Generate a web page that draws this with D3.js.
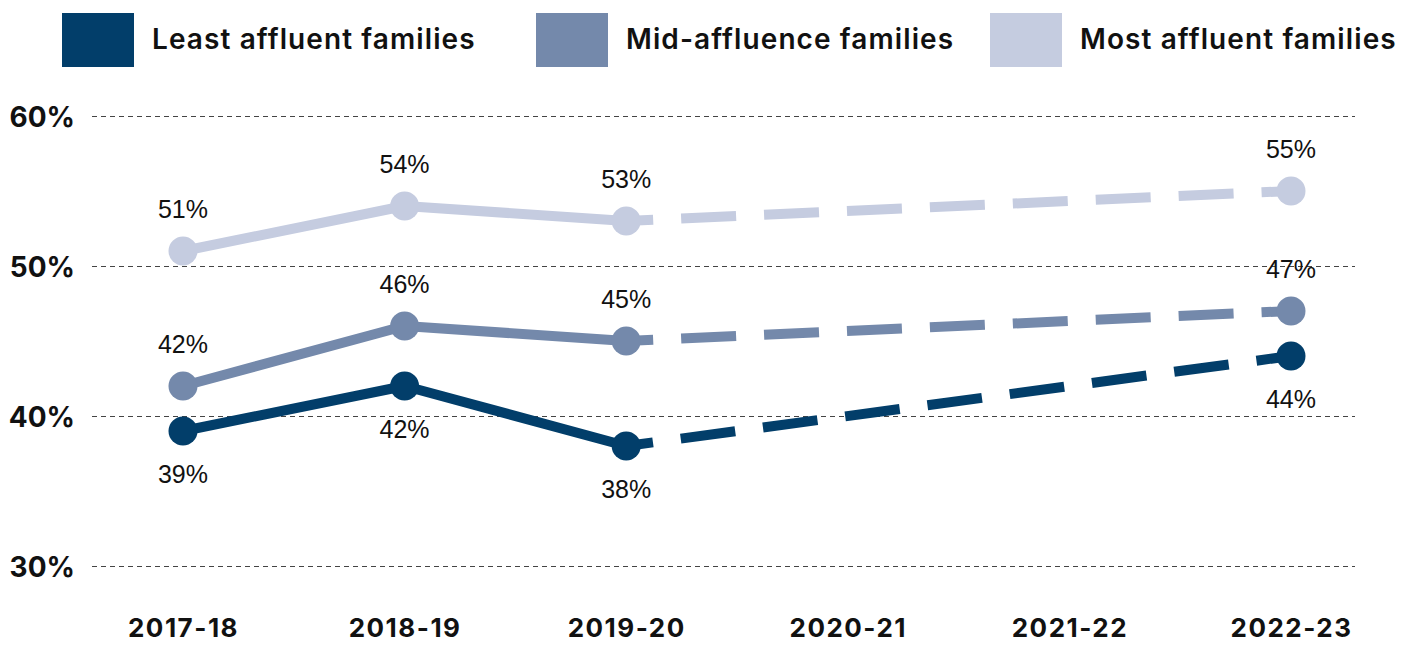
<!DOCTYPE html>
<html>
<head>
<meta charset="utf-8">
<script src="https://cdn.jsdelivr.net/npm/d3@7"></script>
<style>
  html, body { margin: 0; padding: 0; background: #fff; }
  svg { display: block; }
</style>
</head>
<body>
<svg id="chart" width="1408" height="645"></svg>
<script>
// ---- data ----
const categories = ["2017-18", "2018-19", "2019-20", "2020-21", "2021-22", "2022-23"];
const seriesNames = ["Least affluent families", "Mid-affluence families", "Most affluent families"];
const leastValues = [39, 42, 38, null, null, 44];
const midValues   = [42, 46, 45, null, null, 47];
const mostValues  = [51, 54, 53, null, null, 55];
const yTicks = [30, 40, 50, 60];
const colors = ["#023e6a", "#7489ab", "#c5cce0"];
const labelSide = ["below", "above", "above"];

const svg = d3.select("#chart");
const boldFont = "Inter, 'Open Sans', sans-serif";
const labelFont = "'Liberation Sans', Arial, sans-serif";

const x = d3.scalePoint().domain(categories).range([183, 1291]);
const y = d3.scaleLinear().domain([30, 60]).range([566, 116]);

const gridLeft = 92, gridRight = 1355;

// ---- y axis / gridlines ----
const yAxis = svg.append("g")
  .attr("transform", `translate(${gridLeft},0)`)
  .call(d3.axisLeft(y).tickValues(yTicks).tickFormat(d => d + "%")
        .tickSize(-(gridRight - gridLeft)).tickPadding(17));
yAxis.select(".domain").remove();
yAxis.selectAll(".tick line")
  .attr("stroke", "#444").attr("stroke-width", 1.2).attr("stroke-dasharray", "5,4");
yAxis.selectAll(".tick text")
  .attr("fill", "#111").attr("font-family", boldFont).attr("font-weight", 700)
  .attr("font-size", 28).attr("dy", "0.36em");

// ---- x axis ----
const xAxis = svg.append("g")
  .attr("transform", "translate(0,566)")
  .call(d3.axisBottom(x).tickSize(0));
xAxis.select(".domain").remove();
xAxis.selectAll(".tick text")
  .attr("fill", "#111").attr("font-family", boldFont).attr("font-weight", 700)
  .attr("font-size", 26).attr("letter-spacing", "1.5px")
  .attr("y", 71).attr("dy", 0);

// ---- series ----
const seriesValues = [leastValues, midValues, mostValues];
const series = seriesNames.map((name, i) => ({
  name, color: colors[i], side: labelSide[i],
  points: categories.map((c, j) => ({ cat: c, v: seriesValues[i][j] })).filter(p => p.v !== null)
}));

const line = d3.line().x(d => x(d.cat)).y(d => y(d.v));

const drawOrder = [2, 1, 0];
drawOrder.forEach(i => {
  const s = series[i];
  const g = svg.append("g");
  const solidPts = s.points.slice(0, 3);
  const dashPts = s.points.slice(2);
  g.append("path").attr("d", line(solidPts)).attr("fill", "none")
    .attr("stroke", s.color).attr("stroke-width", 10).attr("stroke-linejoin", "round");
  g.append("path").attr("d", line(dashPts)).attr("fill", "none")
    .attr("stroke", s.color).attr("stroke-width", 10)
    .attr("stroke-dasharray", "55,28").attr("stroke-dashoffset", 28);
  g.selectAll("circle").data(s.points).join("circle")
    .attr("cx", d => x(d.cat)).attr("cy", d => y(d.v)).attr("r", 14.5)
    .attr("fill", s.color);
  g.selectAll("text").data(s.points).join("text")
    .attr("x", d => x(d.cat))
    .attr("y", d => s.side === "above" ? y(d.v) - 33 : y(d.v) + 52)
    .attr("text-anchor", "middle")
    .attr("font-family", labelFont).attr("font-size", 25).attr("fill", "#111")
    .text(d => d.v + "%");
});

// ---- legend ----
const legendRectX = [62, 536, 990];
const legend = svg.append("g");
seriesNames.forEach((name, i) => {
  legend.append("rect").attr("x", legendRectX[i]).attr("y", 13)
    .attr("width", 72).attr("height", 54).attr("fill", colors[i]);
  legend.append("text").attr("x", legendRectX[i] + 90).attr("y", 49)
    .attr("font-family", boldFont).attr("font-weight", 600).attr("font-size", 28)
    .attr("letter-spacing", "1.1px")
    .attr("fill", "#111").text(name);
});
</script>
</body>
</html>
